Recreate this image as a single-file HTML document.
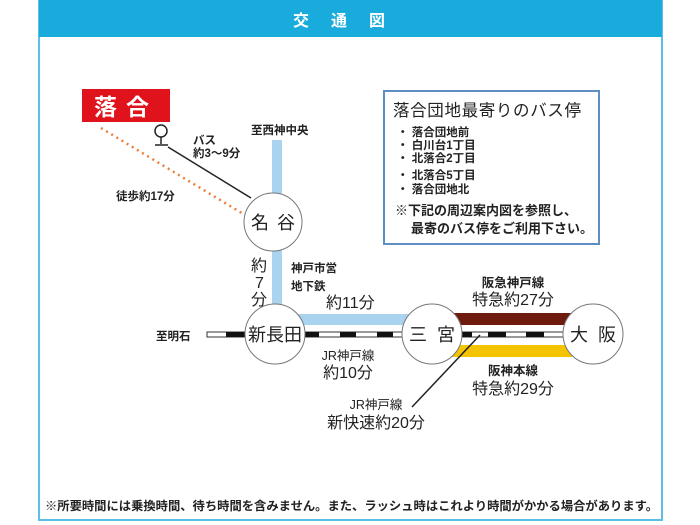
<!DOCTYPE html>
<html><head><meta charset="utf-8"><style>
body{margin:0;width:700px;height:525px;background:#fff;overflow:hidden}
svg{display:block}
text{font-family:"Liberation Sans","Noto Sans CJK JP",sans-serif;fill:#222}
.b{font-weight:bold}
</style></head><body>
<svg width="700" height="525" viewBox="0 0 700 525">
<rect x="39" y="0" width="623" height="520" fill="#fff" stroke="#5bbfe6" stroke-width="2"/>
<rect x="39" y="0" width="623" height="37" fill="#1aabdd"/>
<text x="350" y="26" text-anchor="middle" font-size="16" font-weight="bold" style="fill:#fff" letter-spacing="22">交通図</text>

<!-- info box -->
<rect x="384" y="91" width="215" height="153" fill="#fff" stroke="#5d8fc4" stroke-width="2"/>
<text x="393" y="116" font-size="16.5" textLength="188">落合団地最寄りのバス停</text>
<g font-size="11.5" class="b">
<text x="397" y="136">・ 落合団地前</text>
<text x="397" y="149">・ 白川台1丁目</text>
<text x="397" y="162">・ 北落合2丁目</text>
<text x="397" y="179">・ 北落合5丁目</text>
<text x="397" y="193">・ 落合団地北</text>
</g>
<text x="395" y="215" font-size="13" class="b">※下記の周辺案内図を参照し、</text>
<text x="411" y="233" font-size="13" class="b">最寄のバス停をご利用下さい。</text>

<!-- Ochiai -->
<rect x="82" y="89" width="88" height="33" fill="#e0121b"/>
<text x="126" y="115" text-anchor="middle" font-size="23" font-weight="bold" style="fill:#fff" letter-spacing="9">落合</text>
<circle cx="161" cy="131" r="6" fill="#fff" stroke="#222" stroke-width="1.5"/>
<line x1="161" y1="137" x2="161" y2="144" stroke="#222" stroke-width="1.5"/>
<line x1="155" y1="145" x2="168" y2="145" stroke="#222" stroke-width="1.5"/>
<line x1="168" y1="147" x2="251" y2="198" stroke="#222" stroke-width="1.5"/>
<line x1="101" y1="128" x2="245" y2="215" stroke="#ee7d3a" stroke-width="2.5" stroke-dasharray="2 4"/>
<text x="193" y="144" font-size="11.5" class="b">バス</text>
<text x="193" y="157" font-size="11.5" class="b">約3〜9分</text>
<text x="116" y="200" font-size="11.5" class="b">徒歩約17分</text>

<!-- blue subway -->
<rect x="272" y="140" width="10" height="200" fill="#a9d3ef"/>
<rect x="277" y="314" width="150" height="11" fill="#a9d3ef"/>
<text x="251" y="134" font-size="11.5" class="b">至西神中央</text>
<text x="251" y="271" font-size="16">約</text>
<text x="255" y="288" font-size="16">7</text>
<text x="251" y="305" font-size="16">分</text>
<text x="291" y="272" font-size="11.5" class="b">神戸市営</text>
<text x="291" y="290" font-size="11.5" class="b">地下鉄</text>
<text x="326" y="308" font-size="16">約11分</text>

<!-- Hankyu/Hanshin -->
<rect x="452" y="313" width="120" height="12" fill="#6e1a0c"/>
<rect x="452" y="345" width="120" height="12" fill="#f5c400"/>
<text x="513" y="287" text-anchor="middle" font-size="12.5" class="b">阪急神戸線</text>
<text x="513" y="305" text-anchor="middle" font-size="16">特急約27分</text>
<text x="513" y="375" text-anchor="middle" font-size="12.5" class="b">阪神本線</text>
<text x="513" y="394" text-anchor="middle" font-size="16">特急約29分</text>

<!-- JR line -->
<rect x="207" y="332" width="360" height="5" fill="#fff" stroke="#333" stroke-width="1"/>
<g fill="#111">
<rect x="226" y="332" width="20" height="5"/>
<rect x="305" y="332" width="14" height="5"/>
<rect x="340" y="332" width="16" height="5"/>
<rect x="377" y="332" width="16" height="5"/>
<rect x="462" y="332" width="10" height="5"/>
<rect x="488" y="332" width="18" height="5"/>
<rect x="526" y="332" width="18" height="5"/>
</g>
<text x="156" y="340" font-size="11.5" class="b">至明石</text>
<text x="348" y="360" text-anchor="middle" font-size="12.5">JR神戸線</text>
<text x="348" y="378" text-anchor="middle" font-size="16">約10分</text>
<line x1="480" y1="335" x2="412" y2="407" stroke="#222" stroke-width="1.5"/>
<text x="376" y="409" text-anchor="middle" font-size="12.5">JR神戸線</text>
<text x="376" y="428" text-anchor="middle" font-size="16">新快速約20分</text>

<!-- stations -->
<g fill="#fff" stroke="#777" stroke-width="1">
<circle cx="273" cy="222" r="29"/>
<circle cx="275" cy="334" r="30"/>
<circle cx="432" cy="334" r="30"/>
<circle cx="593" cy="334" r="30"/>
</g>
<g font-size="18" text-anchor="middle">
<text x="273" y="229" letter-spacing="8" dx="4">名谷</text>
<text x="275" y="341">新長田</text>
<text x="432" y="341" letter-spacing="10" dx="5">三宮</text>
<text x="593" y="341" letter-spacing="10" dx="5">大阪</text>
</g>

<text x="45" y="510" font-size="12" class="b" textLength="613" lengthAdjust="spacingAndGlyphs">※所要時間には乗換時間、待ち時間を含みません。また、ラッシュ時はこれより時間がかかる場合があります。</text>
</svg>
</body></html>
